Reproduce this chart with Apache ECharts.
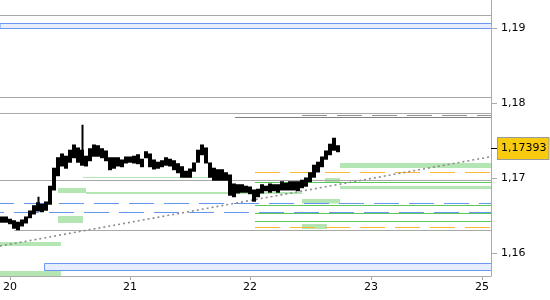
<!DOCTYPE html>
<html><head><meta charset="utf-8">
<script src="https://cdn.jsdelivr.net/npm/echarts@6/dist/echarts.min.js"></script>
<style>html,body{margin:0;padding:0;background:#fff}#c{width:550px;height:300px}</style>
</head><body><div id="c"></div>
<script>
// ---- axes ----
const xMin = -2, xMax = 96.2;           // hours from day 20, 00:00
const yMin = 1.15693, yMax = 1.19373;
const xTickPositions = [0, 24, 48, 72.2, 94.4];
const xTickLabels = ['20', '21', '22', '23', '25'];
const yTicks = [1.16, 1.17, 1.18, 1.19];
const lastPrice = 1.17393;

// ---- price bars (evenly spaced in time) ----
const barStart = -1.6, barStep = 0.8;
const barHigh = [1.1648,1.1648,1.1645,1.1643,1.1641,1.1644,1.1648,1.1656,1.1663,1.1667,1.1665,1.1668,1.1689,1.1713,1.1727,1.1732,1.1729,1.1737,1.1744,1.1740,1.1737,1.1729,1.1739,1.1744,1.1743,1.1739,1.1736,1.1727,1.1727,1.1727,1.1724,1.1728,1.1728,1.1729,1.1731,1.1725,1.1735,1.1732,1.1724,1.1721,1.1723,1.1727,1.1725,1.1723,1.1719,1.1715,1.1709,1.1712,1.1720,1.1737,1.1744,1.1740,1.1720,1.1713,1.1711,1.1711,1.1707,1.1704,1.1692,1.1691,1.1691,1.1689,1.1688,1.1684,1.1685,1.1691,1.1689,1.1692,1.1691,1.1691,1.1695,1.1693,1.1695,1.1695,1.1695,1.1697,1.1700,1.1707,1.1717,1.1721,1.1728,1.1736,1.1745,1.1753,1.1743];
const barLow = [1.1641,1.1641,1.1639,1.1633,1.1631,1.1636,1.1640,1.1647,1.1652,1.1656,1.1655,1.1657,1.1665,1.1684,1.1703,1.1716,1.1713,1.1721,1.1727,1.1721,1.1717,1.1716,1.1723,1.1729,1.1729,1.1727,1.1723,1.1711,1.1713,1.1716,1.1715,1.1720,1.1721,1.1720,1.1719,1.1715,1.1727,1.1715,1.1712,1.1713,1.1715,1.1717,1.1716,1.1711,1.1707,1.1701,1.1701,1.1701,1.1709,1.1721,1.1731,1.1720,1.1701,1.1697,1.1697,1.1697,1.1697,1.1677,1.1675,1.1680,1.1681,1.1681,1.1679,1.1669,1.1675,1.1680,1.1683,1.1681,1.1683,1.1681,1.1684,1.1684,1.1684,1.1684,1.1683,1.1687,1.1689,1.1695,1.1701,1.1708,1.1715,1.1725,1.1731,1.1737,1.1735];
const spikes = [[9, 1.1675], [20, 1.1771]];   // [bar index, wick high]

// ---- horizontal levels: [price, start hour] (all run to the right edge) ----
const grayLevels = [[1.191663, -2], [1.180730, -2], [1.178597, -2], [1.169663, -2], [1.162997, 0.8]];
const darkGrayLevels = [[1.178063, 45]];
const grayDashLevels = [[1.178330, 58.4]];
const blueDashLevels = [[1.166597, -2], [1.165397, -2]];
const greenLevels = [[1.169397, 49], [1.166330, 49], [1.165263, 49], [1.164197, 49]];
const orangeDashLevels = [[1.170730, 49], [1.163397, 49]];

// ---- zones: [x0, x1, priceTop, priceBottom] ----
const greenZones = [
  [66, 96.2, 1.17200, 1.17133],
  [66, 96.2, 1.16893, 1.16853],
  [63, 66, 1.17000, 1.16946],
  [58.4, 66, 1.16720, 1.16660],
  [58.4, 63.4, 1.16386, 1.16320],
  [9.6, 15.2, 1.16866, 1.16800],
  [15.2, 58.4, 1.16813, 1.16786],
  [14.6, 40.4, 1.17013, 1.17000],
  [9.6, 14.6, 1.16493, 1.16400],
  [-2, 10.2, 1.16146, 1.16093],
  [-2, 10.2, 1.15760, 1.15693]
];
const blueZones = [
  [-2, 96.4, 1.190597, 1.189930],
  [6.9, 96.4, 1.158597, 1.157663]
];
const trendLine = [[-2, 1.16093], [96.2, 1.17284]];

// ---- build ----
const FONT = 'DejaVu Sans';
function levelSeries(levels, color, type, offset) {
  return levels.map(function (l) {
    return {
      type: 'line', silent: true, animation: false, symbol: 'none', z: 3,
      data: [[l[1], l[0]], [xMax, l[0]]],
      lineStyle: { color: color, width: 1, type: type, dashOffset: offset || 0 }
    };
  });
}
function zoneSeries(zones, fill, stroke) {
  return {
    type: 'custom', silent: true, animation: false, z: 2, clip: true,
    encode: { x: [0, 1], y: [2, 3] },
    data: zones,
    renderItem: function (params, api) {
      const a = api.coord([api.value(0), api.value(2)]);
      const b = api.coord([api.value(1), api.value(3)]);
      return {
        type: 'rect',
        shape: { x: a[0], y: a[1], width: b[0] - a[0], height: Math.max(1, b[1] - a[1]) },
        style: stroke ? { fill: fill, stroke: stroke, lineWidth: 1 } : { fill: fill }
      };
    }
  };
}
const bars = barHigh.map(function (h, i) {
  let wick = h;
  spikes.forEach(function (s) { if (s[0] === i) wick = s[1]; });
  return [barStart + i * barStep, h, barLow[i], wick];
});

const series = [].concat(
  [zoneSeries(greenZones, '#b3e6b3'), zoneSeries(blueZones, '#e6edff', '#6a98f0')],
  levelSeries(grayLevels, '#a8a8a8', 'solid'),
  levelSeries(darkGrayLevels, '#808080', 'solid'),
  levelSeries(grayDashLevels, '#909090', [25, 10]),
  levelSeries([blueDashLevels[0]], '#6495ed', [25, 10], 11),
  levelSeries([blueDashLevels[1]], '#6495ed', [25, 10], 21),
  levelSeries(greenLevels, '#5cc85c', 'solid'),
  levelSeries(orangeDashLevels, '#ffb833', [25, 10]),
  [{
    type: 'line', silent: true, animation: false, symbol: 'none', z: 4,
    data: trendLine, lineStyle: { color: '#8c8c8c', width: 1.6, type: [2, 3] }
  }, {
    type: 'custom', silent: true, animation: false, z: 5, clip: true,
    encode: { x: 0, y: [1, 2, 3] },
    data: bars,
    renderItem: function (params, api) {
      const x = api.value(0);
      const w = api.size([barStep, 0])[0];
      const t = api.coord([x, api.value(1)]);
      const b = api.coord([x, api.value(2)]);
      const children = [{
        type: 'rect',
        shape: { x: t[0] - w / 2, y: t[1] - 0.5, width: w, height: Math.max(3, b[1] - t[1] + 1) },
        style: { fill: '#000' }
      }];
      if (api.value(3) > api.value(1)) {
        const k = api.coord([x, api.value(3)]);
        children.push({
          type: 'line',
          shape: { x1: Math.round(k[0]) + 0.5, y1: k[1], x2: Math.round(k[0]) + 0.5, y2: t[1] },
          style: { stroke: '#000', lineWidth: 2 }
        });
      }
      return { type: 'group', children: children };
    }
  }]
);

const chart = echarts.init(document.getElementById('c'), null, { renderer: 'canvas' });
chart.setOption({
  animation: false,
  backgroundColor: '#ffffff',
  grid: { left: 0, right: 59, top: 0, bottom: 24, containLabel: false, outerBoundsMode: 'none' },
  xAxis: {
    type: 'value', min: xMin, max: xMax,
    axisLine: { show: true, onZero: false, lineStyle: { color: '#aaaaaa', width: 1 } },
    axisTick: { show: true, customValues: xTickPositions, length: 4, lineStyle: { color: '#aaaaaa' } },
    axisLabel: {
      customValues: xTickPositions, margin: 6,
      formatter: function (v) { const i = xTickPositions.indexOf(v); return i >= 0 ? xTickLabels[i] : ''; },
      color: '#000', fontFamily: FONT, fontSize: 11
    },
    splitLine: { show: false }
  },
  yAxis: [{
    type: 'value', position: 'right', min: yMin, max: yMax,
    axisLine: { show: true, onZero: false, lineStyle: { color: '#aaaaaa', width: 1 } },
    axisTick: { show: true, customValues: yTicks, length: 6, lineStyle: { color: '#aaaaaa' } },
    axisLabel: {
      customValues: yTicks, margin: 10,
      formatter: function (v) { return v.toFixed(2).replace('.', ','); },
      color: '#000', fontFamily: FONT, fontSize: 11
    },
    splitLine: { show: false }
  }, {
    type: 'value', position: 'right', min: yMin, max: yMax,
    axisLine: { show: false, onZero: false },
    axisTick: { show: true, customValues: [lastPrice], length: 6, lineStyle: { color: '#000' } },
    axisLabel: {
      customValues: [lastPrice], margin: 7,
      formatter: function (v) { return v.toFixed(5).replace('.', ','); },
      color: '#000', fontFamily: FONT, fontSize: 11,
      backgroundColor: '#f9cb10', borderColor: '#9a9a9a', borderWidth: 1,
      padding: [5, 2, 5, 3]
    },
    splitLine: { show: false }
  }],
  series: series
});
</script></body></html>
